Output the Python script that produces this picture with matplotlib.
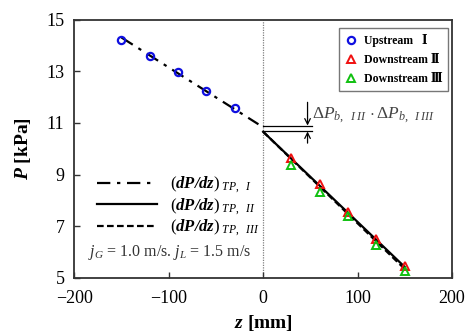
import numpy as np
import matplotlib
matplotlib.use('Agg')
import matplotlib.pyplot as plt

plt.rcParams['font.family'] = ['Liberation Serif', 'DejaVu Serif', 'Noto Sans CJK JP']
plt.rcParams['mathtext.fontset'] = 'custom'
plt.rcParams['mathtext.rm'] = 'Liberation Serif'
plt.rcParams['mathtext.it'] = 'Liberation Serif:italic'
plt.rcParams['mathtext.bf'] = 'Liberation Serif:bold'
plt.rcParams['mathtext.bfit'] = 'Liberation Serif:italic:bold'

# measured points
z_up = [-150, -120, -90, -60, -30]
p_up = [14.20, 13.60, 12.96, 12.24, 11.57]
z_down = [30, 60, 90, 120, 150]
p_down2 = [9.66, 8.63, 7.55, 6.51, 5.47]
p_down3 = [9.37, 8.34, 7.39, 6.29, 5.26]

# fitted gradient lines (end points)
z_fit1 = [-150, -5]
p_fit1 = [14.31, 10.95]
z_fit2 = [0, 150]
p_fit2 = [10.66, 5.42]
z_fit3 = [0, 150]
p_fit3 = [10.66, 5.34]

# pressure jump levels at z = 0
p_jump = [10.90, 10.67]

fig = plt.figure(figsize=(4.67, 3.34), dpi=100)
ax = fig.add_axes([0.159, 0.168, 0.809, 0.773])

ax.axvline(0, color='gray', lw=0.9, ls=(0, (1, 1)), zorder=1)

l1, = ax.plot(z_fit1, p_fit1, color='black', lw=1.6, ls=(0, (6, 3, 1.5, 3)))
l2, = ax.plot(z_fit2, p_fit2, color='black', lw=1.6, ls='-')
l3, = ax.plot(z_fit3, p_fit3, color='black', lw=1.6, ls=(0, (3, 1.5)))

m1, = ax.plot(z_up, p_up, 'o', ms=5.2, mfc='none', mec='#1010e0', mew=1.6, ls='none')
m2, = ax.plot(z_down, p_down2, '^', ms=6, mfc='none', mec='#f01010', mew=1.4, ls='none')
m3, = ax.plot(z_down, p_down3, '^', ms=6, mfc='none', mec='#10c010', mew=1.4, ls='none')

# pressure jump indicator
for p in p_jump:
    ax.plot([0, 52], [p, p], color='black', lw=0.9)
ax.annotate('', xy=(47, p_jump[0]), xytext=(47, 11.8),
            arrowprops=dict(arrowstyle='->', color='black', lw=0.9, shrinkA=0, shrinkB=0))
ax.annotate('', xy=(47, p_jump[1]), xytext=(47, 10.22),
            arrowprops=dict(arrowstyle='->', color='black', lw=0.9, shrinkA=0, shrinkB=0))
ax.text(52, 11.3, r'$\mathit{ΔP}_{b,\ \ I\,II}\,\cdot\mathit{ΔP}_{b,\ \ I\,III}$',
        fontsize=12.5, color='#444444', va='center')

leg1 = ax.legend([m1, m2, m3], ['Upstream   \u2160', 'Downstream \u2161', 'Downstream \u2162'],
                 loc='upper right', bbox_to_anchor=(1.005, 0.99), frameon=True, fancybox=False,
                 edgecolor='#555555', prop={'weight': 'bold', 'size': 8.5},
                 handlelength=1.0, handletextpad=0.6, borderpad=0.5, labelspacing=0.6)
leg1.get_frame().set_linewidth(1.0)
ax.add_artist(leg1)

ax.legend([l1, l2, l3],
          [r'$(\mathbfit{dP/dz})_{\ TP,\ \ I}$', r'$(\mathbfit{dP/dz})_{\ TP,\ \ II}$',
           r'$(\mathbfit{dP/dz})_{\ TP,\ \ III}$'],
          loc='lower left', bbox_to_anchor=(0.02, 0.095), frameon=False,
          prop={'size': 12}, handlelength=3.6, handletextpad=0.8, labelspacing=0.05)

ax.text(-185, 5.85, r'$j_G$ = 1.0 m/s. $j_L$ = 1.5 m/s', fontsize=11.5, color='#333333')

ax.set_xlim(-200, 200)
ax.set_ylim(5, 15)
ax.set_xticks([-200, -100, 0, 100, 200])
ax.set_yticks([5, 7, 9, 11, 13, 15])
ax.tick_params(direction='in', length=4, width=1, labelsize=13, colors='#333333',
               labelcolor='black')
ax.tick_params(axis='x', pad=9)
ax.tick_params(axis='y', pad=7)
for s in ax.spines.values():
    s.set_linewidth(1.3)
    s.set_color('#333333')

ax.set_xlabel(r'$\mathbfit{z}$ [mm]', fontsize=14, fontweight='bold', labelpad=4)
ax.set_ylabel(r'$\mathbfit{P}$ [kPa]', fontsize=14, fontweight='bold', labelpad=10)

fig.savefig('out.png', dpi=100)
